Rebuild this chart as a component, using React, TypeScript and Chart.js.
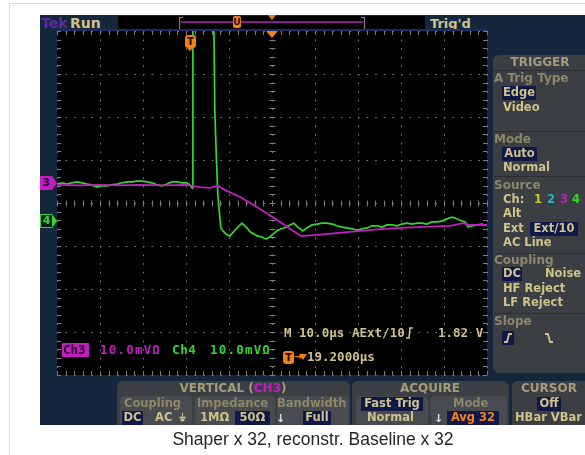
import React, { useEffect, useRef } from "react";
import { Chart, registerables } from "chart.js";
Chart.register(...registerables);

// ---- data (time in µs from left of screen, level in mV relative to graticule centre) ----
const ch3TimeUs = [0, 5.3, 10.0, 14.7, 19.3, 24.0, 30.2, 33.3, 35.6, 37.4, 39.1, 42.6, 47.2, 51.9, 56.7, 60.5, 68.1, 75.8, 83.7, 91.4, 94.4, 96.0, 100];
const ch3LevelMv = [4.2, 4.1, 4.2, 4.1, 4.2, 4.1, 4.2, 3.7, 3.5, 4.0, 3.0, 1.4, -1.4, -4.4, -7.7, -7.4, -6.7, -6.0, -5.6, -5.3, -4.7, -5.1, -5.1];

const ch4TimeUs = [0, 1.2, 2.3, 3.5, 4.7, 5.8, 7.0, 8.1, 9.3, 10.5, 11.6, 12.8, 14.0, 15.1, 16.3, 17.4, 18.6, 19.8, 20.9, 22.1, 23.3, 24.4, 25.6, 26.7, 27.9, 29.1, 30.2, 30.9, 31.4, 31.6, 36.3, 36.7, 37.0, 37.4, 38.1, 38.6, 39.3, 40.2, 41.2, 42.1, 43.0, 44.0, 44.9, 45.8, 46.7, 47.7, 48.6, 49.5, 50.5, 51.4, 52.3, 53.3, 54.2, 55.1, 56.0, 57.2, 58.1, 59.3, 60.5, 61.6, 62.8, 64.0, 65.1, 66.3, 67.4, 68.6, 69.8, 71.0, 72.1, 73.3, 74.4, 75.6, 76.7, 77.9, 79.1, 80.2, 81.4, 82.6, 83.7, 84.9, 86.0, 87.2, 88.4, 89.5, 90.7, 91.9, 92.6, 93.7, 94.9, 95.6, 96.5, 97.7, 98.8, 100];
const ch4LevelMv = [4.4, 4.7, 4.4, 4.7, 4.9, 4.7, 4.4, 4.2, 3.7, 4.0, 4.0, 4.2, 4.4, 4.7, 4.9, 4.9, 5.1, 5.1, 4.9, 4.7, 4.2, 4.0, 4.4, 4.9, 4.9, 4.7, 4.7, 4.2, 3.5, 60, 60, 21.6, 12.3, 1.9, -5.8, -6.5, -7.2, -7.7, -6.5, -5.6, -4.7, -5.6, -6.7, -7.2, -7.7, -7.9, -8.4, -7.9, -7.0, -6.3, -6.0, -5.6, -5.1, -4.7, -5.6, -6.5, -5.8, -5.1, -4.9, -4.7, -4.7, -4.9, -5.3, -5.6, -5.8, -6.0, -6.3, -6.0, -5.8, -5.3, -5.3, -5.6, -5.1, -5.1, -5.3, -4.9, -4.7, -4.9, -4.7, -4.7, -4.9, -4.4, -4.4, -4.2, -3.7, -3.3, -3.5, -4.0, -4.4, -5.6, -5.3, -5.1, -4.9, -5.3];

const timeRangeUs = [0, 100];
const levelRangeMv = [-40, 40];
const divisionUs = 10;
const divisionMv = 10;

const NAVY = "#15273c";
const PANEL = "#3b3f44";
const SUB = "#484c51";
const KHAKI = "#cfc28a";
const DIM = "#8d8668";
const HL = "#0f1848";
const ORANGE = "#f0821a";
const MAGENTA = "#c21ec2";
const GREEN = "#30d830";
const GRID = "#7c7c7c";

const PF = "'DejaVu Sans', sans-serif";
const MF = "'DejaVu Sans Mono', monospace";

const graticulePlugin = {
  id: "graticule",
  beforeDraw(chart: any) {
    const { ctx, chartArea: a } = chart;
    ctx.save();
    ctx.fillStyle = "#000";
    ctx.fillRect(a.left, a.top, a.right - a.left, a.bottom - a.top);
    ctx.restore();
  },
  beforeDatasetsDraw(chart: any) {
    const { ctx, chartArea: a, scales } = chart;
    const xs = scales.x, ys = scales.y;
    ctx.save();
    ctx.strokeStyle = GRID;
    ctx.lineWidth = 1;
    const cx = Math.round(xs.getPixelForValue((timeRangeUs[0] + timeRangeUs[1]) / 2)) + 0.5;
    const cy = Math.round(ys.getPixelForValue(0)) + 0.5;
    ctx.beginPath();
    for (let t = timeRangeUs[0]; t <= timeRangeUs[1] + 1e-6; t += divisionUs / 5) {
      const px = Math.round(xs.getPixelForValue(t)) + 0.5;
      ctx.moveTo(px, cy - 3); ctx.lineTo(px, cy + 3);
      ctx.moveTo(px, a.top); ctx.lineTo(px, a.top + 4);
      ctx.moveTo(px, a.bottom); ctx.lineTo(px, a.bottom - 4);
    }
    for (let v = levelRangeMv[0]; v <= levelRangeMv[1] + 1e-6; v += divisionMv / 5) {
      const py = Math.round(ys.getPixelForValue(v)) + 0.5;
      ctx.moveTo(cx - 3, py); ctx.lineTo(cx + 3, py);
      ctx.moveTo(a.left, py); ctx.lineTo(a.left + 4, py);
      ctx.moveTo(a.right, py); ctx.lineTo(a.right - 4, py);
    }
    ctx.stroke();
    ctx.restore();
  },
};

function Txt({ x, y, c = KHAKI, s = 11.5, f = PF, w = 700, center = false, children, bg, ls }: any) {
  return (
    <span
      style={{
        position: "absolute",
        left: x,
        top: y,
        transform: center ? "translate(-50%,-50%)" : "translateY(-50%)",
        color: c,
        fontSize: s,
        fontFamily: f,
        fontWeight: w,
        lineHeight: 1,
        whiteSpace: "nowrap",
        background: bg,
        letterSpacing: ls,
      }}
    >
      {children}
    </span>
  );
}

function Box({ x, y, w, h, bg, r = 0, style }: any) {
  return <div style={{ position: "absolute", left: x, top: y, width: w, height: h, background: bg, borderRadius: r, ...style }} />;
}

function HBox({ x, y, w, h = 14, children, c = KHAKI }: any) {
  return (
    <div style={{ position: "absolute", left: x, top: y, width: w, height: h, background: HL, display: "flex", alignItems: "center", justifyContent: "center", color: c, fontFamily: PF, fontWeight: 700, fontSize: 11.5, lineHeight: 1, whiteSpace: "nowrap" }}>
      {children}
    </div>
  );
}

function TMark({ x, y }: any) {
  return (
    <div style={{ position: "absolute", left: x, top: y, width: 11, height: 13, background: ORANGE, borderRadius: 3, color: "#1a0a00", fontFamily: PF, fontWeight: 700, fontSize: 10, lineHeight: "13px", textAlign: "center" }}>T</div>
  );
}

export default function App() {
  const ref = useRef<HTMLCanvasElement>(null);
  useEffect(() => {
    const chart = new Chart(ref.current as HTMLCanvasElement, {
      type: "line",
      data: {
        datasets: [
          {
            label: "Ch3",
            data: ch3TimeUs.map((t, i) => ({ x: t, y: ch3LevelMv[i] })),
            borderColor: MAGENTA,
            borderWidth: 1.8,
            pointRadius: 0,
            tension: 0,
          },
          {
            label: "Ch4",
            data: ch4TimeUs.map((t, i) => ({ x: t, y: ch4LevelMv[i] })),
            borderColor: GREEN,
            borderWidth: 1.7,
            pointRadius: 0,
            tension: 0,
          },
        ],
      },
      options: {
        responsive: false,
        animation: false,
        devicePixelRatio: 1,
        layout: { padding: { left: 57, top: 31, right: 98, bottom: 80 } },
        plugins: { legend: { display: false }, tooltip: { enabled: false } },
        scales: {
          x: {
            type: "linear",
            min: timeRangeUs[0],
            max: timeRangeUs[1],
            ticks: { display: false, stepSize: divisionUs, autoSkip: false },
            grid: { color: GRID, lineWidth: 1, drawTicks: false },
            border: { display: false, dash: [1.6, 7] },
          },
          y: {
            type: "linear",
            min: levelRangeMv[0],
            max: levelRangeMv[1],
            ticks: { display: false, stepSize: divisionMv, autoSkip: false },
            grid: { color: GRID, lineWidth: 1, drawTicks: false },
            border: { display: false, dash: [1.6, 7] },
          },
        },
      },
      plugins: [graticulePlugin],
    } as any);
    return () => chart.destroy();
  }, []);

  return (
    <div style={{ position: "fixed", left: 0, top: 0, width: 585, height: 455, background: "#fff", overflow: "hidden" }}>
      <div style={{ position: "absolute", left: 9, top: 3, width: 620, height: 500, border: "1px solid #dcdcdc" }} />
      {/* scope frame */}
      <Box x={40} y={15} w={545} h={410} bg={NAVY} />
      {/* header */}
      <Box x={118} y={16} w={307} h={13} bg="#000" />
      <Txt x={41} y={23} c="#5a2a9e" s={14}>Tek</Txt>
      <Txt x={70} y={23} c={KHAKI} s={14}>Run</Txt>
      <Box x={179} y={17} w={3} h={11} bg="transparent" style={{ borderLeft: "1px solid #888", borderTop: "1px solid #888", borderBottom: "1px solid #888" }} />
      <Box x={361} y={17} w={3} h={11} bg="transparent" style={{ borderRight: "1px solid #888", borderTop: "1px solid #888", borderBottom: "1px solid #888" }} />
      <Box x={181} y={21} w={182} h={2} bg="#8a1a8a" />
      <div style={{ position: "absolute", left: 233, top: 16, width: 8, height: 12, background: ORANGE, borderRadius: 2, color: "#2a1000", fontSize: 9, fontWeight: 700, fontFamily: PF, textAlign: "center", lineHeight: "12px" }}>U</div>
      <div style={{ position: "absolute", left: 268, top: 15, width: 0, height: 0, borderLeft: "4px solid transparent", borderRight: "4px solid transparent", borderTop: "5px solid " + ORANGE }} />
      <Txt x={430} y={23} c={KHAKI} s={13}>Trig'd</Txt>
      <Box x={57} y={29} w={430} h={2} bg="#1e2c66" />

      <canvas ref={ref} width={585} height={455} style={{ position: "absolute", left: 0, top: 0, width: 585, height: 455 }} />

      {/* in-plot markers */}
      <div style={{ position: "absolute", left: 266, top: 31, width: 0, height: 0, borderLeft: "6px solid transparent", borderRight: "6px solid transparent", borderTop: "7px solid " + ORANGE }} />
      <TMark x={185} y={35} />
      <div style={{ position: "absolute", left: 187, top: 48, width: 0, height: 0, borderLeft: "3.5px solid transparent", borderRight: "3.5px solid transparent", borderTop: "3px solid " + ORANGE }} />
      {/* channel ground markers */}
      <div style={{ position: "absolute", left: 40, top: 176, width: 12, height: 14, background: MAGENTA, color: "#2a002a", fontFamily: PF, fontWeight: 700, fontSize: 11, lineHeight: "14px", textAlign: "center" }}>3</div>
      <div style={{ position: "absolute", left: 52, top: 176, width: 0, height: 0, borderTop: "7px solid transparent", borderBottom: "7px solid transparent", borderLeft: "5px solid " + MAGENTA }} />
      <div style={{ position: "absolute", left: 40, top: 214, width: 11, height: 12, border: "1px solid " + GREEN, borderRight: "none", background: "#0a1a10", color: GREEN, fontFamily: PF, fontWeight: 700, fontSize: 11, lineHeight: "12px", textAlign: "center" }}>4</div>
      <div style={{ position: "absolute", left: 52, top: 214, width: 0, height: 0, borderTop: "7px solid transparent", borderBottom: "7px solid transparent", borderLeft: "5px solid " + GREEN }} />

      {/* in-plot readouts */}
      <Box x={62} y={343} w={27} h={14} bg={MAGENTA} />
      <Txt x={63} y={350} c="#2a002a" s={12.5} f={MF}>Ch3</Txt>
      <Txt x={100} y={350} c={MAGENTA} s={12.5} f={MF} ls={1.2}>10.0mVΩ</Txt>
      <Txt x={172} y={350} c={GREEN} s={12.5} f={MF} ls={0.6}>Ch4</Txt>
      <Txt x={210} y={350} c={GREEN} s={12.5} f={MF} ls={1.2}>10.0mVΩ</Txt>
      <Txt x={284} y={333} c={KHAKI} s={12.5} f={MF}>M 10.0µs</Txt>
      <Txt x={352} y={333} c={KHAKI} s={12.5} f={MF}>AExt/10</Txt>
      <svg style={{ position: "absolute", left: 405, top: 327 }} width={9} height={12}>
        <polyline points="1,11 4,11 5,1 8,1" fill="none" stroke={KHAKI} strokeWidth={1.6} />
      </svg>
      <Txt x={438} y={333} c={KHAKI} s={12.5} f={MF}>1.82 V</Txt>
      <TMark x={283} y={351} />
      <Txt x={294} y={357} c={ORANGE} s={10} f={PF}>→</Txt>
      <div style={{ position: "absolute", left: 299, top: 354, width: 0, height: 0, borderLeft: "4px solid transparent", borderRight: "4px solid transparent", borderTop: "6px solid " + ORANGE }} />
      <Txt x={307} y={357} c={KHAKI} s={12.5} f={MF}>19.2000µs</Txt>

      {/* TRIGGER panel */}
      <Box x={493} y={55} w={100} h={318} bg={PANEL} r={6} />
      <Txt x={540} y={62} c="#a39c7c" s={12} center>TRIGGER</Txt>
      <Box x={493} y={70} w={100} h={1} bg="#2c2f33" />
      <Txt x={494} y={78} c={DIM} s={12}>A Trig Type</Txt>
      <HBox x={502} y={86} w={34}>Edge</HBox>
      <Txt x={503} y={108}>Video</Txt>
      <Box x={494} y={131} w={92} h={1} bg="#2a2d31" />
      <Txt x={494} y={139} c={DIM} s={12}>Mode</Txt>
      <HBox x={502} y={147} w={35}>Auto</HBox>
      <Txt x={503} y={168}>Normal</Txt>
      <Box x={494} y={176} w={92} h={1} bg="#2a2d31" />
      <Txt x={494} y={185} c={DIM} s={12}>Source</Txt>
      <Txt x={503} y={200}>Ch:</Txt>
      <Txt x={534} y={200} c="#c8c81e">1</Txt>
      <Txt x={547} y={200} c="#22b4c8">2</Txt>
      <Txt x={560} y={200} c={MAGENTA}>3</Txt>
      <Txt x={572} y={200} c={GREEN}>4</Txt>
      <Txt x={503} y={214}>Alt</Txt>
      <Txt x={503} y={229}>Ext</Txt>
      <HBox x={530} y={222} w={48}>Ext/10</HBox>
      <Txt x={503} y={243}>AC Line</Txt>
      <Box x={494} y={253} w={92} h={1} bg="#2a2d31" />
      <Txt x={494} y={260} c={DIM} s={12}>Coupling</Txt>
      <HBox x={502} y={267} w={20}>DC</HBox>
      <Txt x={545} y={274}>Noise</Txt>
      <Txt x={503} y={289}>HF Reject</Txt>
      <Txt x={503} y={303}>LF Reject</Txt>
      <Box x={494} y={313} w={92} h={1} bg="#2a2d31" />
      <Txt x={494} y={321} c={DIM} s={12}>Slope</Txt>
      <Box x={502} y={331} w={12} h={14} bg={HL} />
      <svg style={{ position: "absolute", left: 503, top: 332 }} width={10} height={12}>
        <polyline points="1,10 4,10 6,2 9,2" fill="none" stroke={KHAKI} strokeWidth={1.8} />
      </svg>
      <svg style={{ position: "absolute", left: 544, top: 332 }} width={10} height={12}>
        <polyline points="1,2 4,2 6,10 9,10" fill="none" stroke={KHAKI} strokeWidth={1.8} />
      </svg>

      {/* VERTICAL panel */}
      <Box x={117} y={381} w={233} h={44} bg={PANEL} r={6} style={{ borderBottomLeftRadius: 0, borderBottomRightRadius: 0 }} />
      <Txt x={233} y={388} c="#a39c7c" s={12} center>
        VERTICAL (<span style={{ color: MAGENTA }}>CH3</span>)
      </Txt>
      <Box x={120} y={396} w={72} h={29} bg={SUB} r={4} />
      <Box x={195} y={396} w={80} h={29} bg={SUB} r={4} />
      <Box x={277} y={396} w={72} h={29} bg={SUB} r={4} />
      <Txt x={124} y={404} c={DIM}>Coupling</Txt>
      <Txt x={197} y={404} c={DIM}>Impedance</Txt>
      <Txt x={277} y={404} c={DIM}>Bandwidth</Txt>
      <HBox x={122} y={411} w={21}>DC</HBox>
      <Txt x={155} y={418}>AC</Txt>
      <Txt x={179} y={418} s={10}>⏚</Txt>
      <Txt x={200} y={418}>1MΩ</Txt>
      <HBox x={235} y={411} w={35}>50Ω</HBox>
      <Txt x={276} y={418} c="#e0e0e0" s={11}>↓</Txt>
      <HBox x={303} y={411} w={28}>Full</HBox>

      {/* ACQUIRE panel */}
      <Box x={352} y={381} w={157} h={44} bg={PANEL} r={6} style={{ borderBottomLeftRadius: 0, borderBottomRightRadius: 0 }} />
      <Txt x={430} y={388} c="#a39c7c" s={12} center>ACQUIRE</Txt>
      <Box x={356} y={396} w={72} h={29} bg={SUB} r={4} />
      <Box x={431} y={396} w={76} h={29} bg={SUB} r={4} />
      <HBox x={361} y={397} w={62}>Fast Trig</HBox>
      <Txt x={367} y={418}>Normal</Txt>
      <Txt x={434} y={418} c="#e0e0e0" s={11}>↓</Txt>
      <Txt x={453} y={404} c={DIM}>Mode</Txt>
      <HBox x={447} y={411} w={52} c={ORANGE}>Avg 32</HBox>

      {/* CURSOR panel */}
      <Box x={512} y={381} w={80} h={44} bg={PANEL} r={6} style={{ borderBottomLeftRadius: 0, borderBottomRightRadius: 0 }} />
      <Txt x={549} y={388} c="#a39c7c" s={12} center>CURSOR</Txt>
      <HBox x={537} y={397} w={24}>Off</HBox>
      <Txt x={515} y={418}>HBar VBar</Txt>

      {/* caption */}
      <Txt x={313} y={440} c="#262626" s={17.5} f="'Liberation Sans', Arial, sans-serif" w={400} center>
        Shaper x 32, reconstr. Baseline x 32
      </Txt>
    </div>
  );
}
